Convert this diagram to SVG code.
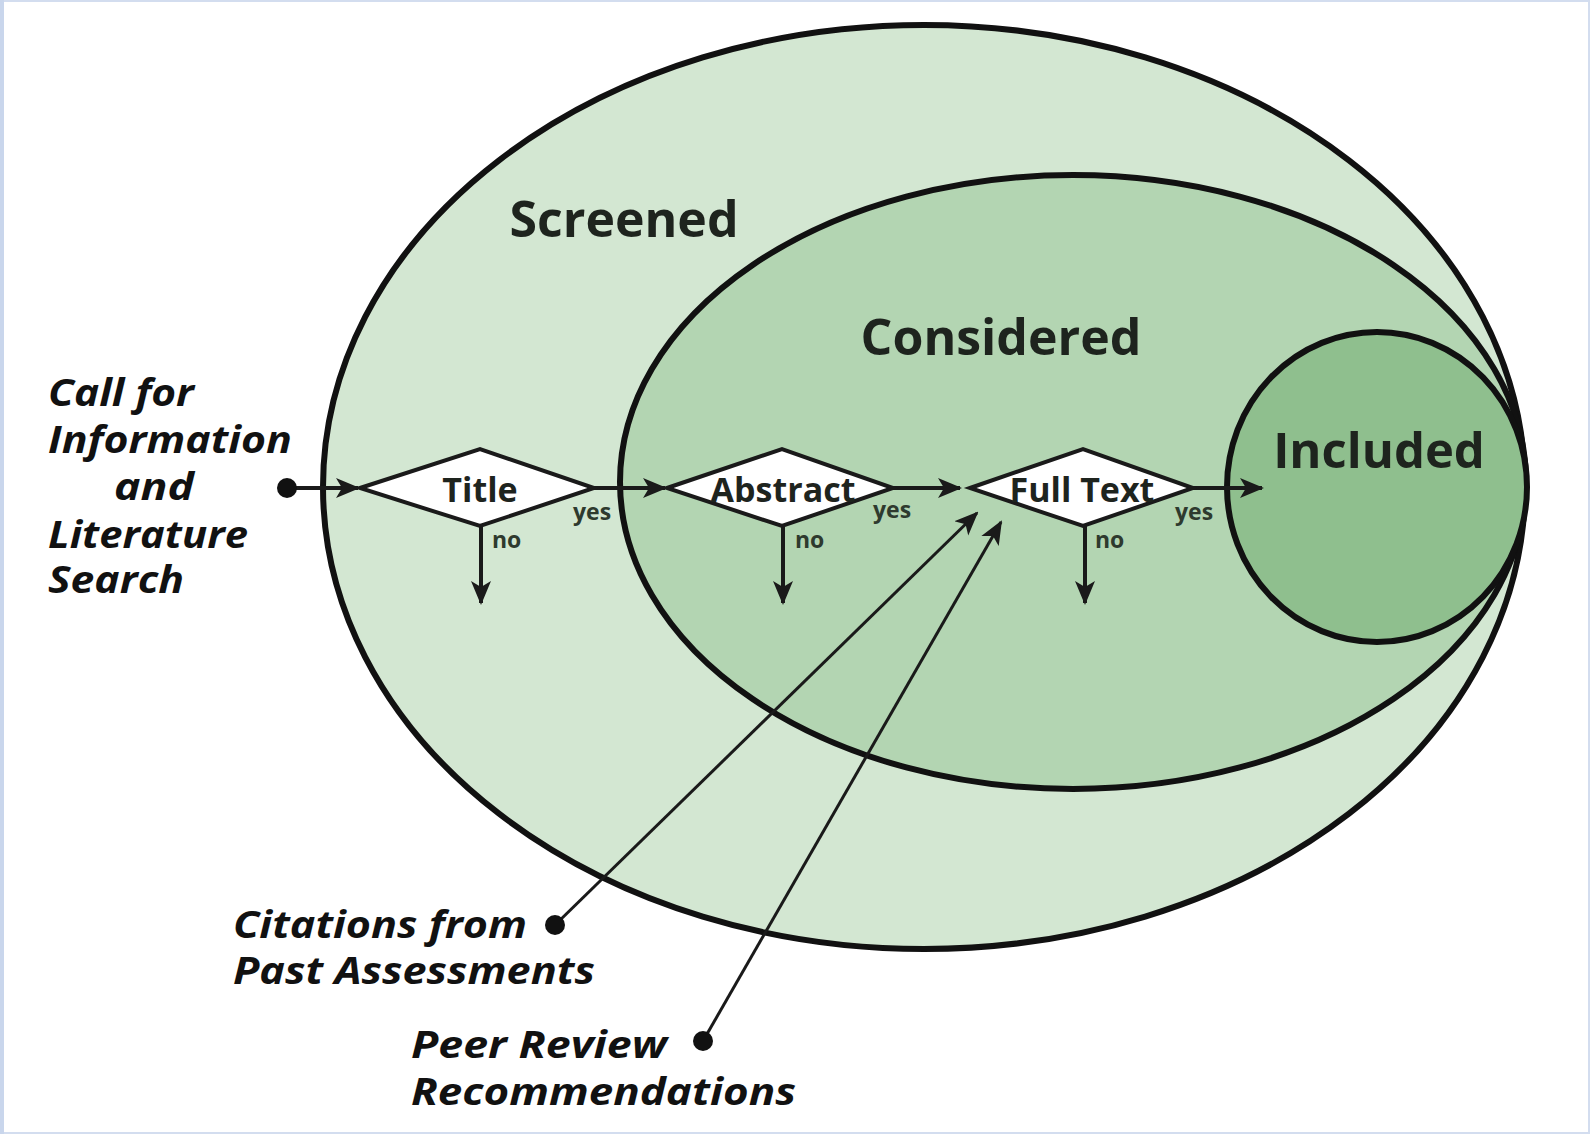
<svg xmlns="http://www.w3.org/2000/svg" width="1590" height="1134" viewBox="0 0 1590 1134">
<style>
.set{stroke:#111;stroke-width:6}
.flow{stroke:#1a1a1a;stroke-width:4;fill:none}
.thin{stroke:#1a1a1a;stroke-width:3;fill:none}
.dia{fill:#fff;stroke:#1a1a1a;stroke-width:4}
.lbl{font-family:"Open Sans","DejaVu Sans",sans-serif;font-weight:bold;fill:#1e241e;text-anchor:middle}
.yn{font-family:"Open Sans","DejaVu Sans",sans-serif;font-weight:bold;fill:#2e3a2e;font-size:23px}
.it{font-family:"Open Sans","DejaVu Sans",sans-serif;font-weight:bold;font-style:italic;fill:#111;font-size:37px}
</style>
<defs>
<marker id="ah" viewBox="0 0 12 10" refX="11" refY="5" markerWidth="6" markerHeight="5" orient="auto" markerUnits="strokeWidth">
<path d="M0,0 L12,5 L0,10 L3,5 z" fill="#1a1a1a"/>
</marker>
<marker id="ah2" viewBox="0 0 12 10" refX="11" refY="5" markerWidth="8" markerHeight="7" orient="auto" markerUnits="strokeWidth">
<path d="M0,0 L12,5 L0,10 L3,5 z" fill="#1a1a1a"/>
</marker>
</defs>
<rect x="0" y="0" width="1590" height="1134" fill="#fff"/>
<rect x="1" y="1" width="1588" height="1132" fill="none" stroke="#d3ddef" stroke-width="2"/>
<rect x="0" y="0" width="4" height="1134" fill="#c9d6ec"/>

<g id="screened">
<ellipse cx="924" cy="487" rx="601" ry="462" fill="#d3e7d2" class="set"/>
<text class="lbl" x="624" y="237" font-size="50">Screened</text>
</g>
<g id="considered">
<ellipse cx="1073" cy="482" rx="453" ry="307" fill="#b3d5b2" class="set"/>
<text class="lbl" x="1001" y="355" font-size="50">Considered</text>
</g>
<g id="included">
<ellipse cx="1377" cy="487" rx="150" ry="155" fill="#8fbf8e" class="set"/>
<text class="lbl" x="1379" y="468" font-size="49">Included</text>
</g>

<g id="connectors">
<line class="flow" x1="287" y1="488" x2="358" y2="488" marker-end="url(#ah)"/>
<line class="flow" x1="594" y1="488" x2="665" y2="488" marker-end="url(#ah)"/>
<line class="flow" x1="893" y1="488" x2="960" y2="488" marker-end="url(#ah)"/>
<line class="flow" x1="1193" y1="488" x2="1262" y2="488" marker-end="url(#ah)"/>
<line class="flow" x1="481" y1="526" x2="481" y2="603" marker-end="url(#ah)"/>
<line class="flow" x1="783" y1="526" x2="783" y2="603" marker-end="url(#ah)"/>
<line class="flow" x1="1085" y1="526" x2="1085" y2="603" marker-end="url(#ah)"/>
<line class="thin" x1="555" y1="925" x2="977" y2="513" marker-end="url(#ah2)"/>
<line class="thin" x1="703" y1="1041" x2="1001" y2="522" marker-end="url(#ah2)"/>
<circle cx="287" cy="488" r="10" fill="#111"/>
<circle cx="555" cy="925" r="10" fill="#111"/>
<circle cx="703" cy="1041" r="10" fill="#111"/>
</g>

<g id="title">
<polygon class="dia" points="360,488 480,449 594,488 480,526"/>
<text class="lbl" x="480" y="502" font-size="34">Title</text>
<text class="yn" x="573" y="520">yes</text>
<text class="yn" x="492" y="548">no</text>
</g>
<g id="abstract">
<polygon class="dia" points="667,488 782,449 893,488 782,526"/>
<text class="lbl" x="783" y="502" font-size="34">Abstract</text>
<text class="yn" x="873" y="518">yes</text>
<text class="yn" x="795" y="548">no</text>
</g>
<g id="fulltext">
<polygon class="dia" points="970,488 1083,449 1193,488 1083,526"/>
<text class="lbl" x="1082" y="502" font-size="34">Full Text</text>
<text class="yn" x="1175" y="520">yes</text>
<text class="yn" x="1095" y="548">no</text>
</g>

<g id="call">
<text class="it" x="48" y="406" textLength="146" lengthAdjust="spacingAndGlyphs">Call for</text>
<text class="it" x="48" y="453" textLength="244" lengthAdjust="spacingAndGlyphs">Information</text>
<text class="it" x="114" y="500" textLength="80" lengthAdjust="spacingAndGlyphs">and</text>
<text class="it" x="48" y="548" textLength="200" lengthAdjust="spacingAndGlyphs">Literature</text>
<text class="it" x="48" y="593" textLength="136" lengthAdjust="spacingAndGlyphs">Search</text>
</g>
<g id="citations">
<text class="it" x="233" y="938" textLength="294" lengthAdjust="spacingAndGlyphs">Citations from</text>
<text class="it" x="233" y="984" textLength="362" lengthAdjust="spacingAndGlyphs">Past Assessments</text>
</g>
<g id="peer">
<text class="it" x="411" y="1058" textLength="256" lengthAdjust="spacingAndGlyphs">Peer Review</text>
<text class="it" x="411" y="1105" textLength="385" lengthAdjust="spacingAndGlyphs">Recommendations</text>
</g>
</svg>
